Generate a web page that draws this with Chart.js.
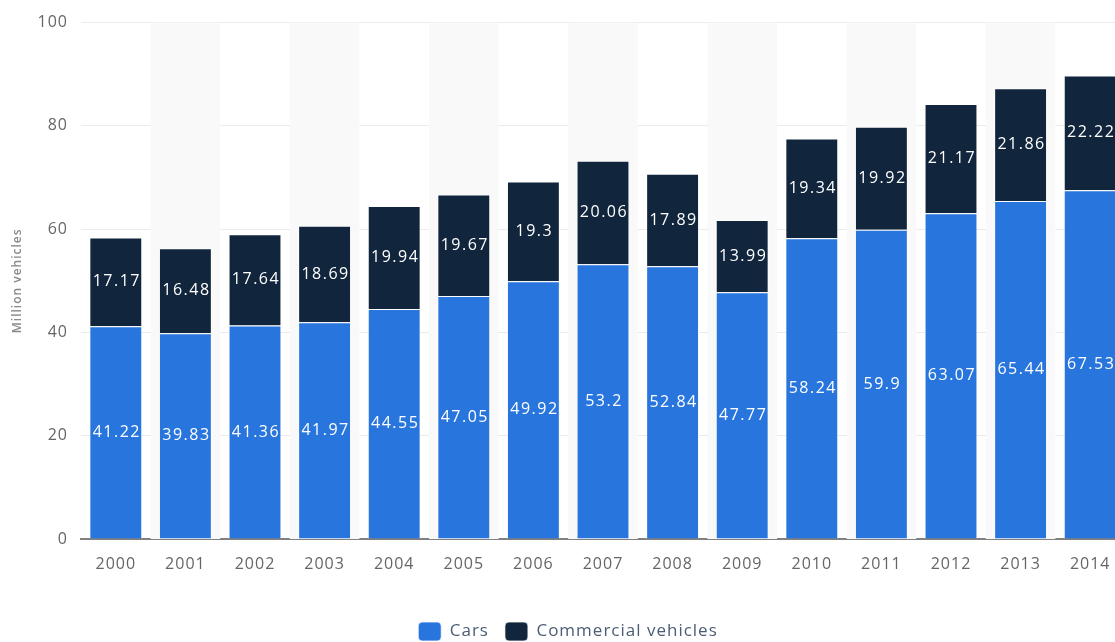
<!DOCTYPE html>
<html lang="en">
  <head>
    <meta charset="UTF-8">
    <title>Vehicle production</title>
    <style>
      html, body { margin: 0; padding: 0; background: #fff; overflow: hidden; }
      #wrap { width: 1136px; height: 642px; }
    </style>
  </head>
  <body>
    <div id="wrap">
      <canvas id="myChart"></canvas>
    </div>

    <script src="https://cdn.jsdelivr.net/npm/chart.js"></script>
    <script>
      const years = ["2000", "2001", "2002", "2003", "2004", "2005", "2006", "2007",
                     "2008", "2009", "2010", "2011", "2012", "2013", "2014"];
      const cars = [41.22, 39.83, 41.36, 41.97, 44.55, 47.05, 49.92, 53.2,
                    52.84, 47.77, 58.24, 59.9, 63.07, 65.44, 67.53];
      const commercial = [17.17, 16.48, 17.64, 18.69, 19.94, 19.67, 19.3, 20.06,
                          17.89, 13.99, 19.34, 19.92, 21.17, 21.86, 22.22];
      const yTicks = [0, 20, 40, 60, 80, 100];

      const FONT = "'Open Sans', sans-serif";

      // shaded background behind every second year
      const bands = {
        id: "bands",
        beforeDatasetsDraw(chart) {
          const { ctx, chartArea, scales } = chart;
          const x = scales.x;
          const step = x.getPixelForValue(1) - x.getPixelForValue(0);
          ctx.save();
          ctx.fillStyle = "#f9f9f9";
          years.forEach((y, i) => {
            if (i % 2 === 1) {
              const cx = x.getPixelForValue(i);
              ctx.fillRect(cx - step / 2, chartArea.top, step, chartArea.bottom - chartArea.top);
            }
          });
          ctx.restore();
        }
      };

      // letter spacing for all canvas text
      const spacing = {
        id: "spacing",
        beforeInit(chart) { chart.ctx.letterSpacing = "1px"; },
        beforeDraw(chart) { chart.ctx.letterSpacing = "1px"; }
      };

      // white value labels in the middle of each segment
      const valueLabels = {
        id: "valueLabels",
        afterDatasetsDraw(chart) {
          const ctx = chart.ctx;
          ctx.save();
          ctx.font = "16px " + FONT;
          ctx.letterSpacing = "1.5px";
          ctx.fillStyle = "#ffffff";
          ctx.textAlign = "center";
          ctx.textBaseline = "middle";
          chart.data.datasets.forEach((ds, di) => {
            chart.getDatasetMeta(di).data.forEach((bar, i) => {
              const { x, y, base } = bar.getProps(["x", "y", "base"], true);
              ctx.fillText(String(ds.data[i]), x + 1, (y + base) / 2);
            });
          });
          ctx.restore();
        }
      };

      const ctx = document.getElementById("myChart");
      new Chart(ctx, {
        type: "bar",
        data: {
          labels: years,
          datasets: [
            {
              label: "Cars",
              data: cars,
              backgroundColor: "#2876dd",
              borderColor: "rgba(255,255,255,0.75)",
              borderWidth: 1,
              barPercentage: 0.76,
              categoryPercentage: 1
            },
            {
              label: "Commercial vehicles",
              data: commercial,
              backgroundColor: "#11253c",
              borderColor: "rgba(255,255,255,0.75)",
              borderWidth: 1,
              barPercentage: 0.76,
              categoryPercentage: 1
            }
          ]
        },
        options: {
          responsive: true,
          maintainAspectRatio: false,
          animation: false,
          layout: { padding: { top: 14, right: 11, bottom: -9, left: -12 } },
          plugins: {
            tooltip: { enabled: false },
            legend: {
              position: "bottom",
              labels: {
                color: "#4a5d75",
                font: { family: FONT, size: 17 },
                boxWidth: 23,
                boxHeight: 19,
                useBorderRadius: true,
                borderRadius: 4,
                padding: 16
              }
            }
          },
          scales: {
            x: {
              stacked: true,
              grid: { display: false },
              border: { color: "#808080", width: 2 },
              ticks: { color: "#666", font: { family: FONT, size: 16 }, padding: 8 },
              afterFit(scale) { scale.height = 67; }
            },
            y: {
              stacked: true,
              min: 0,
              max: 100,
              afterBuildTicks(scale) { scale.ticks = yTicks.map(v => ({ value: v })); },
              grid: { color: "#ebebeb", lineWidth: 1, drawTicks: false },
              border: { display: false },
              ticks: { color: "#666", font: { family: FONT, size: 16 }, padding: 13 },
              title: {
                display: true,
                text: "Million vehicles",
                color: "#8a8a8a",
                font: { family: FONT, size: 12, weight: "600" },
                padding: { top: 22, bottom: 0 }
              },
              afterFit(scale) { scale.width = 93; }
            }
          }
        },
        plugins: [spacing, bands, valueLabels]
      });
    </script>
  </body>
</html>
